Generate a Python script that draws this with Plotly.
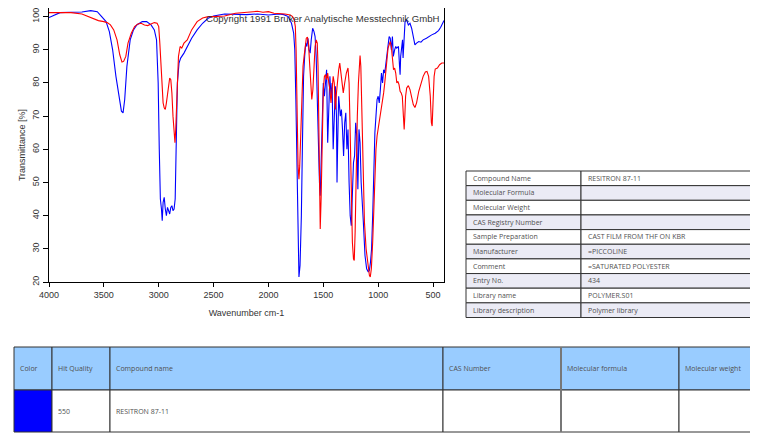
import plotly.graph_objects as go

W, H = 758, 434
OFF = 8  # the page body adds an 8px margin around the figure

# ---------------- spectrum data (wavenumber cm-1, transmittance %) ----------------
blue_wn = [4000, 3950, 3900, 3800, 3700, 3620, 3560, 3520, 3480, 3450, 3420, 3390, 3360, 3340, 3325,
           3310, 3290, 3260, 3230, 3200, 3150, 3110, 3070, 3040, 3020, 3005, 2995, 2985, 2975, 2968,
           2960, 2950, 2940, 2930, 2920, 2910, 2900, 2890, 2880, 2870, 2860, 2850, 2845, 2838, 2830,
           2815, 2800, 2770, 2740, 2700, 2650, 2600, 2550, 2500, 2400, 2300, 2200, 2100, 2000, 1900,
           1860, 1820, 1790, 1770, 1760, 1750, 1740, 1730, 1722, 1712, 1700, 1690, 1680, 1670, 1660,
           1650, 1640, 1630, 1620, 1610, 1597, 1585, 1575, 1565, 1555, 1545, 1535, 1528, 1520, 1510,
           1500, 1490, 1480, 1470, 1460, 1450, 1440, 1430, 1420, 1410, 1400, 1390, 1380, 1375, 1370,
           1360, 1345, 1335, 1325, 1315, 1305, 1295, 1285, 1275, 1265, 1255, 1245, 1235, 1225, 1215,
           1205, 1195, 1185, 1175, 1165, 1155, 1145, 1135, 1120, 1105, 1090, 1080, 1070, 1060, 1050,
           1040, 1030, 1020, 1010, 1000, 990, 980, 970, 960, 950, 940, 930, 920, 910, 900,
           890, 880, 870, 862, 850, 840, 831, 815, 805, 800, 795, 785, 778, 773, 765,
           755, 745, 735, 725, 710, 695, 680, 665, 650, 630, 610, 590, 560, 540, 512,
           480, 450, 430, 410, 400]
blue_t = [99.7, 100.5, 101.2, 101.3, 101.4, 101.8, 101.5, 100.0, 98.5, 95.5, 90.0, 82.0, 75.0, 71.5, 71.0,
          75.0, 85.0, 93.0, 96.0, 97.5, 98.5, 98.5, 97.5, 96.0, 93.0, 80.0, 60.0, 45.0, 42.0, 38.5,
          44.0, 45.5, 42.0, 40.0, 42.5, 41.0, 40.5, 42.5, 43.0, 41.5, 42.0, 45.0, 55.0, 70.0, 80.0,
          86.0, 87.5, 89.0, 91.0, 93.5, 96.0, 98.0, 99.5, 100.2, 100.8, 100.7, 100.6, 100.8, 100.5, 100.8,
          100.6, 100.0, 98.0, 95.0, 90.0, 75.0, 55.0, 30.0, 21.5, 25.0, 40.0, 62.0, 82.0, 88.0, 92.0,
          91.0, 93.5, 90.0, 89.0, 93.0, 96.5, 95.5, 94.0, 88.0, 75.0, 58.0, 50.0, 46.0, 55.0, 70.0,
          80.0, 76.0, 82.0, 84.0, 62.0, 70.0, 82.0, 76.0, 80.0, 60.0, 74.0, 79.0, 70.0, 50.0, 60.0,
          76.0, 70.0, 72.0, 66.0, 58.0, 68.0, 71.0, 60.0, 66.0, 50.0, 40.0, 37.0, 45.0, 56.0, 58.0,
          68.0, 64.0, 48.0, 66.0, 62.0, 50.0, 45.0, 38.0, 28.0, 24.0, 23.0, 23.5, 26.0, 30.0, 40.0,
          55.0, 65.0, 70.0, 75.0, 76.0, 74.0, 78.0, 83.0, 80.0, 84.0, 83.0, 86.0, 88.0, 92.0, 94.0,
          93.5, 90.0, 94.0, 88.0, 90.0, 91.0, 90.5, 91.0, 85.0, 82.5, 88.0, 92.8, 93.0, 87.5, 94.0,
          98.5, 99.0, 98.5, 97.5, 98.0, 96.5, 94.0, 91.5, 92.0, 92.5, 92.3, 93.0, 93.5, 94.0, 94.5,
          95.0, 95.8, 96.8, 98.4, 98.8]

red_wn = [4000, 3900, 3800, 3700, 3650, 3600, 3550, 3500, 3470, 3440, 3410, 3380, 3355, 3335, 3320,
          3300, 3280, 3250, 3220, 3190, 3160, 3130, 3100, 3070, 3040, 3015, 3000, 2990, 2980, 2970,
          2960, 2950, 2940, 2930, 2920, 2910, 2900, 2890, 2880, 2870, 2860, 2852, 2845, 2835, 2820,
          2805, 2790, 2770, 2740, 2700, 2650, 2600, 2550, 2500, 2400, 2300, 2200, 2100, 2050, 2000,
          1950, 1900, 1850, 1800, 1780, 1765, 1755, 1748, 1740, 1730, 1722, 1715, 1705, 1695, 1685,
          1675, 1665, 1655, 1645, 1635, 1625, 1615, 1605, 1595, 1585, 1575, 1565, 1555, 1548, 1540,
          1533, 1528, 1520, 1510, 1500, 1490, 1480, 1470, 1460, 1450, 1440, 1430, 1420, 1410, 1400,
          1390, 1380, 1370, 1360, 1350, 1340, 1330, 1318, 1305, 1290, 1275, 1265, 1255, 1245, 1235,
          1225, 1218, 1210, 1200, 1190, 1180, 1170, 1165, 1158, 1150, 1140, 1125, 1110, 1095, 1080,
          1072, 1062, 1050, 1040, 1030, 1020, 1010, 1000, 990, 980, 970, 960, 950, 940, 930,
          920, 910, 900, 890, 880, 870, 860, 850, 840, 830, 820, 810, 800, 790, 780,
          770, 763, 757, 750, 740, 725, 710, 695, 680, 665, 650, 630, 610, 590, 570,
          555, 540, 525, 515, 508, 500, 490, 480, 460, 440, 420, 400]
red_t = [101.2, 101.2, 101.2, 100.8, 100.2, 99.5, 98.8, 98.5, 98.2, 97.5, 96.0, 93.0, 88.5, 86.3, 86.5,
         88.0, 92.0, 95.0, 97.0, 97.8, 98.0, 97.5, 97.3, 97.8, 98.2, 98.0, 97.0, 92.0, 85.0, 78.0,
         74.0, 72.5, 72.0, 74.0, 77.0, 80.0, 81.5, 81.0, 77.0, 70.0, 64.0, 62.0, 66.0, 78.0, 88.0,
         91.0, 90.5, 92.0, 93.0, 96.0, 98.5, 99.6, 100.0, 100.0, 100.2, 101.0, 101.2, 101.6, 101.3, 101.5,
         101.0, 101.0, 100.8, 100.5, 100.0, 99.0, 97.0, 90.0, 70.0, 55.0, 51.0, 55.0, 65.0, 78.0, 85.0,
         88.0, 91.0, 93.5, 93.8, 92.0, 86.0, 78.0, 75.0, 78.0, 86.0, 91.0, 93.0, 92.0, 85.0, 60.0,
         40.0, 36.0, 45.0, 65.0, 78.0, 82.0, 82.5, 81.0, 83.0, 80.0, 78.0, 74.0, 77.0, 82.0, 80.0,
         72.0, 77.0, 81.0, 84.0, 86.0, 83.0, 80.0, 77.0, 80.0, 83.0, 84.5, 80.0, 65.0, 45.0, 32.0,
         27.0, 26.5, 35.0, 55.0, 70.0, 80.0, 86.0, 88.3, 85.0, 75.0, 55.0, 38.0, 30.0, 25.0, 22.0,
         21.5, 24.0, 32.0, 42.0, 52.0, 60.0, 64.0, 66.0, 68.0, 70.0, 72.0, 75.0, 77.0, 80.0, 84.0,
         88.0, 90.5, 91.5, 92.5, 91.0, 86.0, 84.0, 84.5, 83.0, 80.0, 80.5, 79.5, 77.5, 77.0, 76.0,
         70.0, 66.0, 70.0, 76.0, 78.5, 79.2, 78.0, 76.0, 73.5, 72.6, 74.0, 77.5, 80.0, 82.0, 83.3,
         83.5, 82.0, 76.0, 68.0, 67.0, 74.0, 82.0, 84.2, 84.5, 85.5, 86.0, 86.0]

x_ticks = [4000, 3500, 3000, 2500, 2000, 1500, 1000, 500]
y_ticks = [20, 30, 40, 50, 60, 70, 80, 90, 100]
x_range = [4000, 400]
y_range = [20, 102.6]

copyright_text = "Copyright 1991 Bruker Analytische Messtechnik GmbH"

# ---------------- table data ----------------
info_labels = ["Compound Name", "Molecular Formula", "Molecular Weight", "CAS Registry Number",
               "Sample Preparation", "Manufacturer", "Comment", "Entry No.", "Library name",
               "Library description"]
info_values = ["RESITRON 87-11", "", "", "", "CAST FILM FROM THF ON KBR", "=PICCOLINE",
               "=SATURATED POLYESTER", "434", "POLYMER.S01", "Polymer library"]

hit_headers = ["Color", "Hit Quality", "Compound name", "CAS Number", "Molecular formula",
               "Molecular weight"]
hit_row = ["", "550", "RESITRON 87-11", "", "", ""]
hit_row_colors = ["#0000FF", "white", "white", "white", "white", "white"]

# ---------------- layout geometry (reference pixels) ----------------
def px_x(x):
    return min(1.0, max(0.0, (x - OFF) / W))

def px_y(y):
    return min(1.0, max(0.0, 1 - (y - OFF) / H))

plot_l, plot_r, plot_t, plot_b = 49, 444, 8, 282

info_l, info_t, info_b = 466, 171, 317.5
info_colw = [115, 172]
info_rowh = (info_b - info_t) / len(info_labels)

hit_l, hit_t = 14, 347
hit_colw = [38, 58, 333, 118, 118, 73]
hit_head_h, hit_row_h = 43, 42

text_color = "#505050"
tfont = "Open Sans, Noto Sans, sans-serif"
lav = "#EBEBF5"
border = "#333333"

fig = go.Figure()

fig.add_trace(go.Scatter(x=blue_wn, y=blue_t, mode="lines",
                         line=dict(color="#0000FF", width=1.1), showlegend=False))
fig.add_trace(go.Scatter(x=red_wn, y=red_t, mode="lines",
                         line=dict(color="#FF0000", width=1.1), showlegend=False))

shapes = []
annotations = []


def add_cell(x0, x1, y0, y1, txt, fill, pad=5):
    shapes.append(dict(type="rect", xref="paper", yref="paper",
                       x0=px_x(x0), x1=px_x(x1), y0=px_y(y1), y1=px_y(y0),
                       fillcolor=fill, line=dict(color=border, width=1), layer="above"))
    if txt:
        annotations.append(dict(text=txt, xref="paper", yref="paper",
                                x=px_x(x0 + pad), y=px_y((y0 + y1) / 2),
                                xanchor="left", yanchor="middle", showarrow=False,
                                font=dict(family=tfont, size=7, color=text_color)))


# Info table
info_edges = [info_l, info_l + info_colw[0], info_l + info_colw[0] + info_colw[1]]
for r, (lab, val) in enumerate(zip(info_labels, info_values)):
    y0 = info_t + r * info_rowh
    y1 = y0 + info_rowh
    fill = "white" if r % 2 == 0 else lav
    add_cell(info_edges[0], info_edges[1], y0, y1, lab, fill)
    add_cell(info_edges[1], info_edges[2], y0, y1, val, fill)

# Hit list table
edges = [hit_l]
for w in hit_colw:
    edges.append(edges[-1] + w)
rows = [(hit_t, hit_t + hit_head_h, hit_headers, ["#99CCFF"] * len(hit_headers)),
        (hit_t + hit_head_h, hit_t + hit_head_h + hit_row_h, hit_row, hit_row_colors)]
for (y0, y1, texts, fills) in rows:
    for i, (txt, fc) in enumerate(zip(texts, fills)):
        add_cell(edges[i], edges[i + 1], y0, y1, txt, fc, pad=4)
# darker divider between CAS Number and Molecular formula columns
shapes.append(dict(type="line", xref="paper", yref="paper",
                   x0=px_x(edges[4]), x1=px_x(edges[4]),
                   y0=px_y(hit_t + hit_head_h + hit_row_h), y1=px_y(hit_t),
                   line=dict(color="#777777", width=2), layer="above"))

annotations.append(dict(text=copyright_text, xref="x domain", yref="y domain", x=0.995, y=0.96,
                        xanchor="right", yanchor="middle", showarrow=False,
                        font=dict(family="Liberation Sans, Arial, sans-serif", size=9.6,
                                  color="#333333")))

axis_font = dict(family="Liberation Sans, Arial, sans-serif", size=9, color="#333333")

fig.update_layout(
    width=W, height=H,
    margin=dict(l=0, r=0, t=0, b=0),
    paper_bgcolor="white", plot_bgcolor="white",
    showlegend=False,
    xaxis=dict(domain=[px_x(plot_l), px_x(plot_r)], range=x_range, tickvals=x_ticks,
               ticks="outside", ticklen=4, tickcolor="black", showline=True, linecolor="black",
               linewidth=1, mirror=True, showgrid=False, zeroline=False, tickfont=axis_font,
               automargin=False, ticklabeloverflow="allow",
               title=dict(text="Wavenumber cm-1", font=axis_font, standoff=10)),
    yaxis=dict(domain=[px_y(plot_b), px_y(plot_t)], range=y_range, tickvals=y_ticks,
               tickangle=-90, ticks="outside", ticklen=5, tickcolor="black", showline=True,
               linecolor="black", linewidth=1, mirror=True, showgrid=False, zeroline=False,
               tickfont=axis_font, automargin=False, ticklabeloverflow="allow",
               title=dict(text="Transmittance [%]", font=axis_font, standoff=4)),
    shapes=shapes,
    annotations=annotations,
)

fig.write_html("out.html")
